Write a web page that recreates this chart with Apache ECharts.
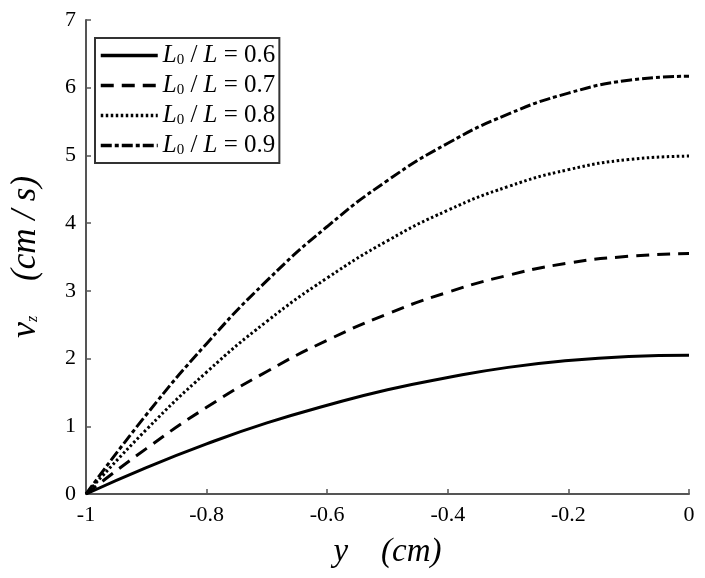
<!DOCTYPE html>
<html>
<head>
<meta charset="utf-8">
<script src="https://cdn.jsdelivr.net/npm/echarts@6/dist/echarts.min.js"></script>
<style>html,body{margin:0;padding:0;background:#fff}#c{width:705px;height:578px}</style>
</head>
<body>
<div id="c"></div>
<script>
var xValues = [-1, -0.9, -0.8, -0.7, -0.6, -0.5, -0.4, -0.3, -0.2, -0.1, 0];
var ratioLabels = ['0.6', '0.7', '0.8', '0.9'];
var v06 = [0, 0.39, 0.74, 1.05, 1.31, 1.54, 1.72, 1.87, 1.97, 2.03, 2.05];
var v07 = [0, 0.67, 1.28, 1.81, 2.27, 2.66, 2.98, 3.23, 3.41, 3.51, 3.55];
var v08 = [0, 0.95, 1.80, 2.55, 3.19, 3.74, 4.19, 4.54, 4.79, 4.94, 4.99];
var v09 = [0, 1.17, 2.22, 3.15, 3.95, 4.63, 5.18, 5.61, 5.92, 6.11, 6.17];

var seriesValues = [v06, v07, v08, v09];
var dashTypes = ['solid', [13, 8], [2.5, 2.5], [11, 3, 4, 3]];

function pairs(vals) { return xValues.map(function (x, i) { return [x, vals[i]]; }); }

var serif = 'Liberation Serif';
var series = seriesValues.map(function (vals, k) {
  return {
    name: 'r' + ratioLabels[k],
    type: 'line',
    data: pairs(vals),
    smooth: true,
    showSymbol: false,
    symbol: 'none',
    lineStyle: { color: '#000', width: 3, type: dashTypes[k] },
    itemStyle: { color: '#000' }
  };
});

var chart = echarts.init(document.getElementById('c'));
chart.setOption({
  backgroundColor: '#fff',
  animation: false,
  grid: { left: 77, right: 16, top: 20, bottom: 84 },
  legend: {
    orient: 'vertical',
    left: 95,
    top: 38,
    itemWidth: 57,
    itemHeight: 14,
    itemGap: 5,
    padding: [5, 4, 5, 4],
    borderColor: '#333',
    borderWidth: 2,
    itemStyle: { opacity: 0 },
    lineStyle: { width: 3.5 },
    data: series.map(function (s) { return s.name; }),
    formatter: function (name) {
      return '{i|L}{s|0}{n| / }{i|L}{n| = ' + name.slice(1) + '}';
    },
    textStyle: {
      color: '#000',
      rich: {
        i: { fontFamily: serif, fontStyle: 'italic', fontSize: 25, color: '#000' },
        s: { fontFamily: serif, fontSize: 15, color: '#000', verticalAlign: 'bottom', padding: [8, 0, 0, 0] },
        n: { fontFamily: serif, fontSize: 25, color: '#000' }
      }
    }
  },
  xAxis: {
    type: 'value',
    min: -1,
    max: 0,
    interval: 0.2,
    name: 'y    (cm)',
    nameLocation: 'middle',
    nameGap: 42,
    nameTextStyle: { fontFamily: serif, fontStyle: 'italic', fontSize: 33, color: '#000' },
    axisLine: { onZero: false, lineStyle: { color: '#555', width: 2 } },
    axisTick: { inside: true, length: 5, lineStyle: { color: '#555', width: 1.5 } },
    axisLabel: { fontFamily: serif, fontSize: 22, color: '#000', margin: 10 },
    splitLine: { show: false }
  },
  yAxis: {
    type: 'value',
    min: 0,
    max: 7,
    interval: 1,
    name: '{v|v}{z|z}{t|    (cm / s)}',
    nameLocation: 'middle',
    nameRotate: 90,
    nameGap: 42,
    nameTextStyle: {
      rich: {
        v: { fontFamily: serif, fontStyle: 'italic', fontSize: 36, color: '#000' },
        z: { fontFamily: serif, fontStyle: 'italic', fontSize: 16, color: '#000', padding: [14, 0, 0, 0] },
        t: { fontFamily: serif, fontStyle: 'italic', fontSize: 35, color: '#000' }
      }
    },
    axisLine: { show: true, onZero: false, lineStyle: { color: '#555', width: 2 } },
    axisTick: { show: true, inside: true, length: 5, lineStyle: { color: '#555', width: 1.5 } },
    axisLabel: { fontFamily: serif, fontSize: 22, color: '#000', margin: 10 },
    splitLine: { show: false }
  },
  series: series
});
</script>
</body>
</html>
